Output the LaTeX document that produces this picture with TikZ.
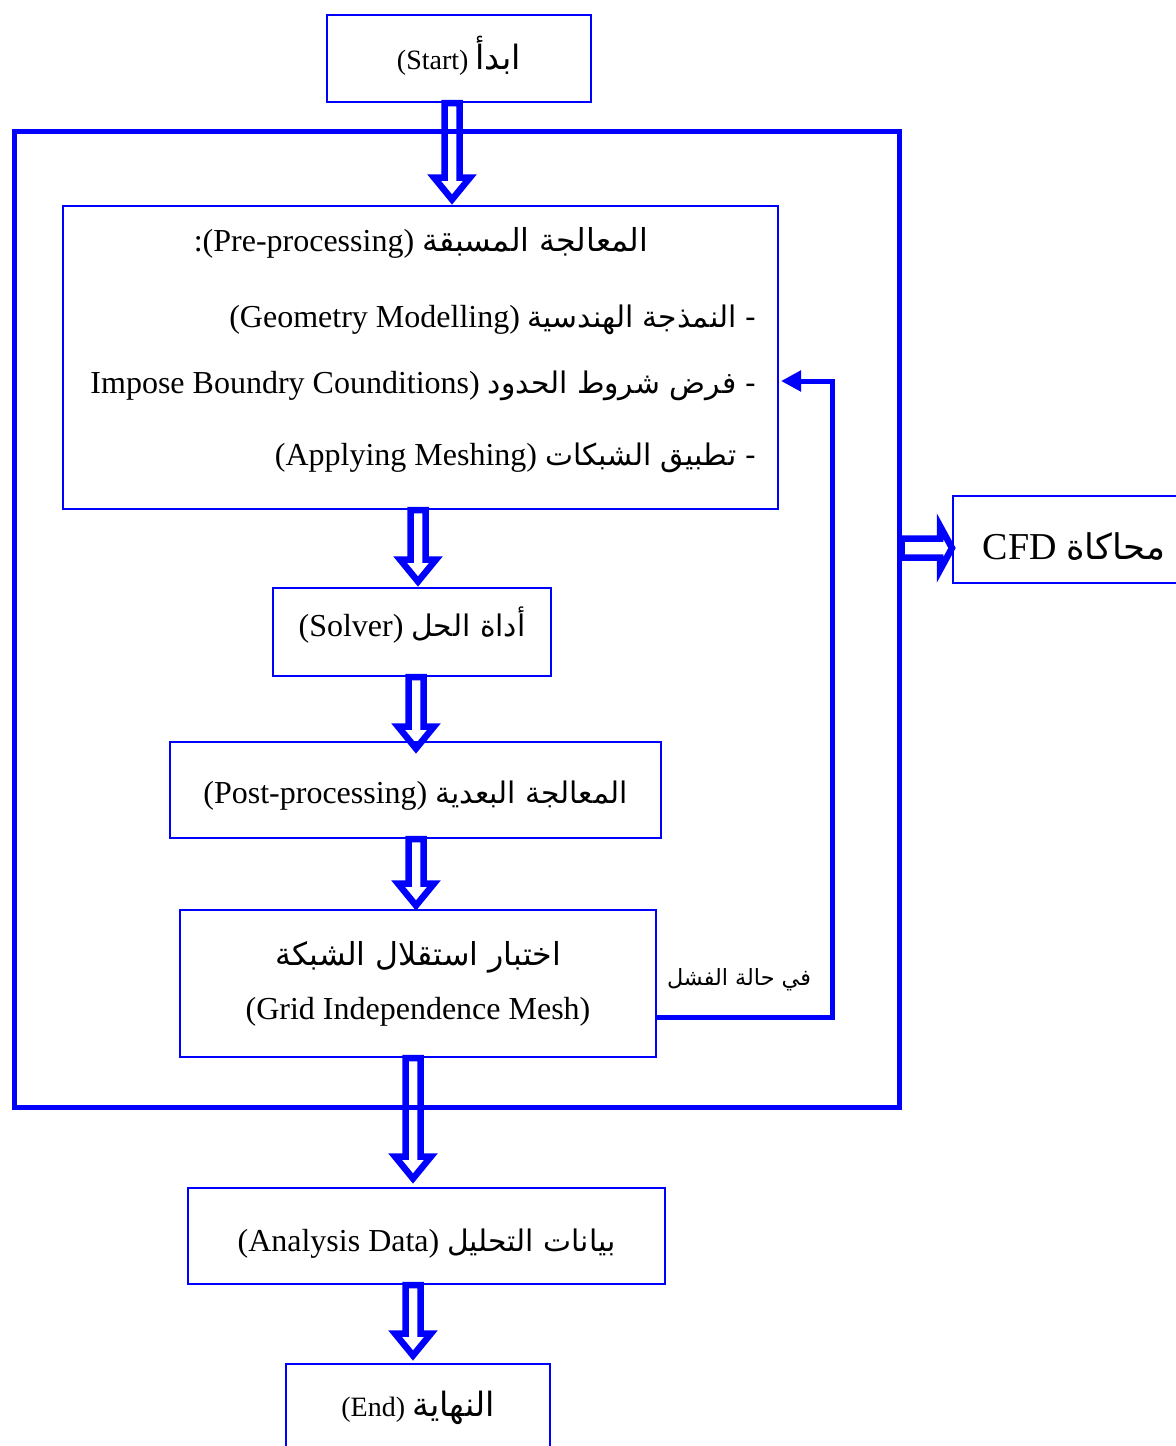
\documentclass[tikz,border=0pt]{standalone}
\usepackage{fontspec}
\setmainfont{Liberation Serif}
\newfontfamily\arabicfont[Script=Arabic,Scale=0.93]{DejaVu Sans}
\TeXXeTstate=1
\usetikzlibrary{calc,arrows.meta}

\newcommand{\artxt}[1]{{\arabicfont\beginR #1\endR}}
\newcommand{\shifttxt}[2]{\raisebox{#1}[\height][\depth]{#2}}
\newcommand{\hollowdown}[2]{%
  \draw[hollow] let \p1=(#1), \p2=(#2) in
    (\x2-3.75pt,\y1) -- (\x2-3.75pt,\y2+13.75pt) -- (\x2-9pt,\y2+13.75pt)
    -- (\x2,\y2+2.75pt) -- (\x2+9pt,\y2+13.75pt) -- (\x2+3.75pt,\y2+13.75pt)
    -- (\x2+3.75pt,\y1) -- cycle;}
\newcommand{\hollowright}[2]{%
  \draw[hollow] let \p1=(#1), \p2=(#2) in
    (\x1,\y2+4.75pt) -- (\x2-8pt,\y2+4.75pt) -- (\x2-8pt,\y2+11pt)
    -- (\x2-2pt,\y2) -- (\x2-8pt,\y2-11pt) -- (\x2-8pt,\y2-4.75pt)
    -- (\x1,\y2-4.75pt) -- cycle;}

\tikzset{
  box/.style={draw=blue, line width=1pt, inner sep=0pt, align=center,
    font=\fontsize{16}{19}\selectfont},
  small/.style={font=\fontsize{14}{17}\selectfont},
  zone/.style={draw=blue, line width=2.5pt, inner sep=0pt},
  hollow/.style={draw=blue, line width=3.25pt, line join=miter},
  feedback/.style={draw=blue, line width=2.5pt,
    -{Triangle[length=10pt,width=10pt]}},
  txt/.style={inner sep=0pt, font=\fontsize{16}{19}\selectfont},
}

\begin{document}
\begin{tikzpicture}[x=0.5pt,y=-0.5pt]
\useasboundingbox (0,0) rectangle (1175,1446);

\node[zone, minimum width=442.5pt, minimum height=488pt] (zone) at (456.5,619) {};

\node[box, small, minimum width=132pt, minimum height=43.5pt] (start) at (459,58.5)
  {\shifttxt{1.5pt}{(Start) {\fontsize{18}{20}\selectfont\artxt{ابدأ}}}};
\node[box, minimum width=357.5pt, minimum height=151.5pt] (pre) at (420.5,357.5) {};
\node[txt] (pretitle) at (421,243) {:(Pre-processing) {\fontsize{17}{19}\selectfont\artxt{المعالجة المسبقة}}};
\node[txt, anchor=east] (geo) at (757,320) {(Geometry Modelling) \artxt{- النمذجة الهندسية}};
\node[txt, anchor=east] (bc) at (757,386) {Impose Boundry Counditions) \artxt{- فرض شروط الحدود}};
\node[txt, anchor=east] (mesh) at (757,458) {(Applying Meshing) \artxt{- تطبيق الشبكات}};

\node[box, minimum width=139pt, minimum height=44pt] (solver) at (412,632)
  {\shifttxt{3.5pt}{(Solver) \artxt{أداة الحل}}};
\node[box, minimum width=245.5pt, minimum height=48pt] (post) at (415.5,790)
  {\shifttxt{-3pt}{(Post-processing) \artxt{المعالجة البعدية}}};
\node[box, minimum width=238pt, minimum height=73.5pt] (grid) at (418,983.5)
  {{\fontsize{17}{19}\selectfont\artxt{اختبار استقلال الشبكة}}\\[8pt](Grid Independence Mesh)};
\node[box, minimum width=238.5pt, minimum height=48pt] (data) at (426.5,1236)
  {\shifttxt{-4pt}{(Analysis Data) \artxt{بيانات التحليل}}};
\node[box, small, minimum width=132pt, minimum height=48pt] (end) at (418,1412)
  {\shifttxt{2pt}{(End) {\fontsize{18}{20}\selectfont\artxt{النهاية}}}};
\node[box, font=\fontsize{19}{23}\selectfont, minimum width=121pt, minimum height=43.5pt]
  (cfd) at (1074,539.5) {\shifttxt{-3.5pt}{CFD \artxt{محاكاة}}};

\hollowdown{start.south}{$(pre.north)+(31.5,0)$}
\hollowdown{pre.south}{$(solver.north)+(6,0)$}
\hollowdown{solver.south}{$(post.north)+(0.5,13)$}
\hollowdown{post.south}{$(grid.north)+(-2,2)$}
\hollowdown{grid.south}{$(data.north)+(-13.5,-3)$}
\hollowdown{data.south}{$(end.north)+(-5,-2)$}
\hollowright{zone.east |- cfd}{$(cfd.west)+(4,8.5)$}

\draw[feedback] ($(grid.east)+(0,33.5)$) -| ($(pre.east)+(53,23.5)$) -- ($(pre.east)+(2,23.5)$);
\node[inner sep=0pt, font=\fontsize{12}{14}\selectfont] (fail) at (739,980) {\artxt{في حالة الفشل}};
\end{tikzpicture}
\end{document}
